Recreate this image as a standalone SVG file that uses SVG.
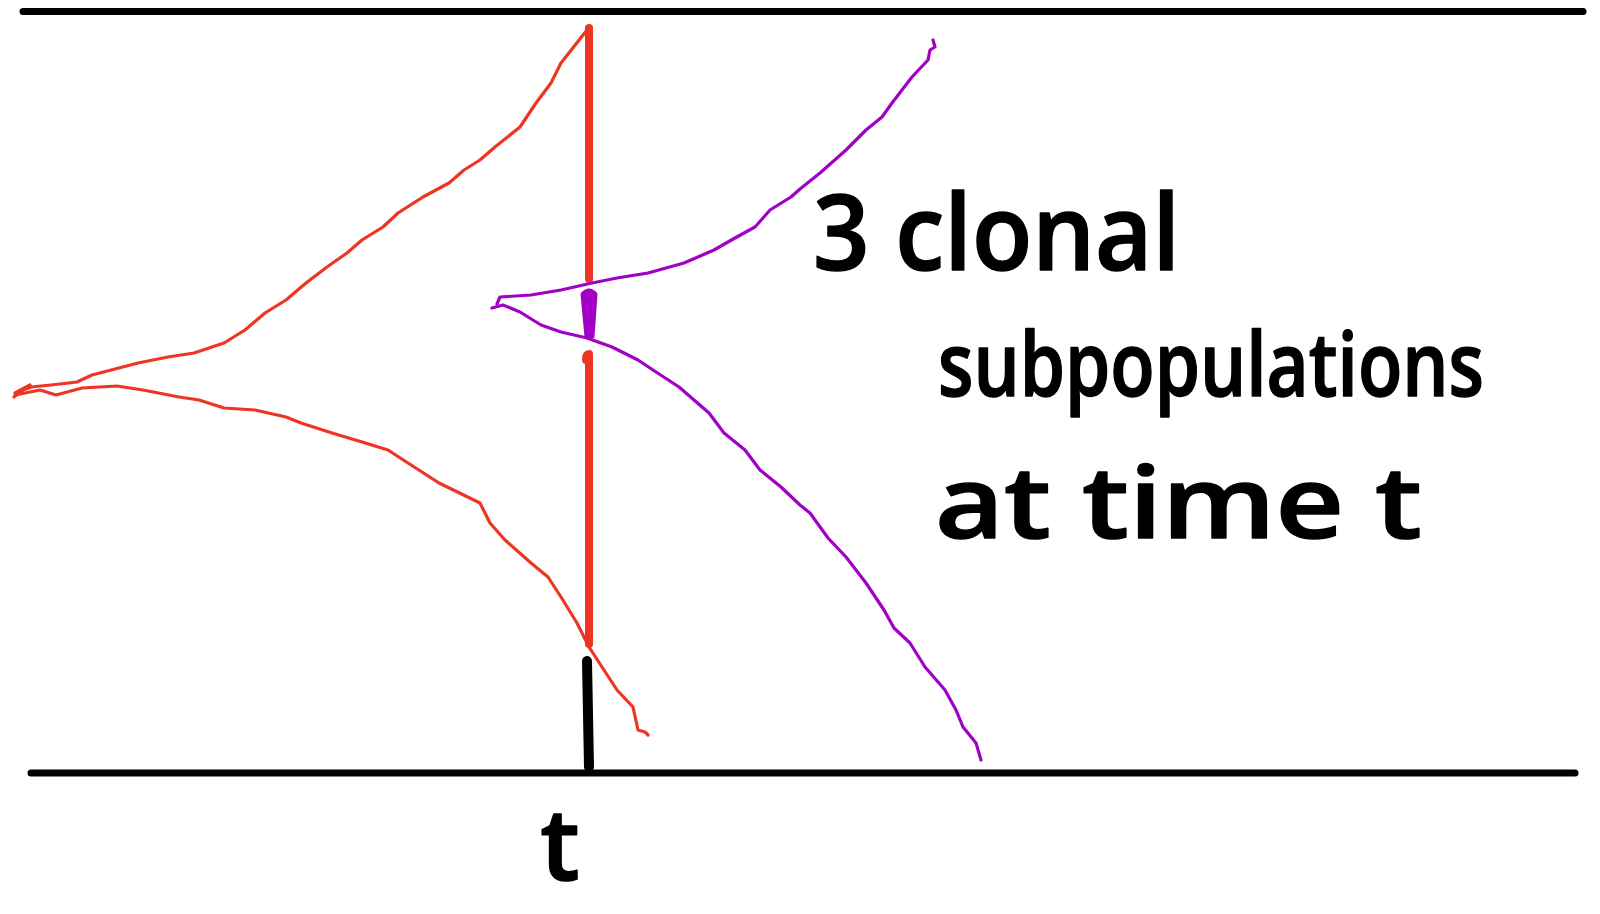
<svg xmlns="http://www.w3.org/2000/svg" width="1600" height="914" viewBox="0 0 1600 914">
<style>
.axis{stroke:#000;stroke-width:7;stroke-linecap:round;fill:none}
.red{stroke:#ee3524;fill:none;stroke-linecap:round;stroke-linejoin:round}
.pur{stroke:#a100c6;fill:none;stroke-linecap:round;stroke-linejoin:round}
.thin{stroke-width:3.2}
.thick{stroke-width:8}
.hand{font-family:"Open Sans","Liberation Sans",sans-serif;font-weight:600;fill:#000;stroke:#000;stroke-width:1.5;stroke-linejoin:round}
</style>
<rect width="1600" height="914" fill="#fff"/>
<g id="axes">
<line class="axis" x1="23" y1="11.5" x2="1583" y2="11.5"/>
<line class="axis" x1="31" y1="773" x2="1575" y2="773"/>
</g>
<g id="red-lineage">
<path class="red thin" d="M587,30 L561,63 L551,83 L536,103 L520,127 L495,147 L480,160 L464,170 L449,183 L423,197 L398,213 L383,227 L362,240 L347,253 L327,267 L306,283 L286,300 L265,313 L245,330 L224,343 L194,353 L168,357 L138,363 L92,375 L77,382 L51,385 L31,387 L15,393 L30,385 L14,397"/>
<path class="red thin" d="M15,395 L40,390 L56,395 L82,388 L117,386 L143,390 L179,397 L199,400 L224,408 L255,410 L286,417 L301,423 L332,433 L362,442 L388,450 L408,463 L439,483 L480,503 L490,523 L505,540 L531,563 L548,577 L561,597 L577,623 L589,647 L602,667 L617,690 L633,707 L638,730 L645,732 L648,735"/>
<line class="red thick" x1="589" y1="28" x2="589" y2="279"/>
<path class="red thick" d="M586,360 Q586,354 589,354 L589,644"/>
</g>
<g id="purple-lineage">
<path class="pur thin" d="M497,304 L500,297 L531,295 L561,290 L592,283 L617,278 L648,273 L684,263 L714,250 L735,238 L755,227 L770,210 L791,197 L800,189 L820,173 L846,150 L866,130 L882,117 L892,103 L912,77 L928,60 L930,50 L935,47 L933,40"/>
<path class="pur thin" d="M492,308 L503,305 L520,312 L541,325 L561,332 L587,338 L612,347 L638,360 L653,370 L679,387 L694,400 L709,413 L724,433 L745,450 L760,470 L781,487 L800,505 L810,513 L828,538 L846,557 L866,583 L884,610 L894,628 L910,643 L925,667 L945,690 L956,710 L963,727 L976,743 L981,760"/>
<path d="M582,294 Q589,286 596,294 L593,337 L586,337 Z" fill="#a100c6" stroke="#a100c6" stroke-width="3" stroke-linejoin="round"/>
</g>
<g id="time-marker">
<path d="M587,661 L589,767" stroke="#000" stroke-width="10" stroke-linecap="round" fill="none"/>
</g>
<g id="labels">
<text class="hand" x="813" y="270" font-size="105" textLength="367" lengthAdjust="spacingAndGlyphs">3 clonal</text>
<text class="hand" x="938" y="396" font-size="88" textLength="546" lengthAdjust="spacingAndGlyphs">subpopulations</text>
<text class="hand" x="935" y="538" font-size="100" textLength="487" lengthAdjust="spacingAndGlyphs">at time t</text>
<text class="hand" x="560" y="880" font-size="100" text-anchor="middle">t</text>
</g>
</svg>
